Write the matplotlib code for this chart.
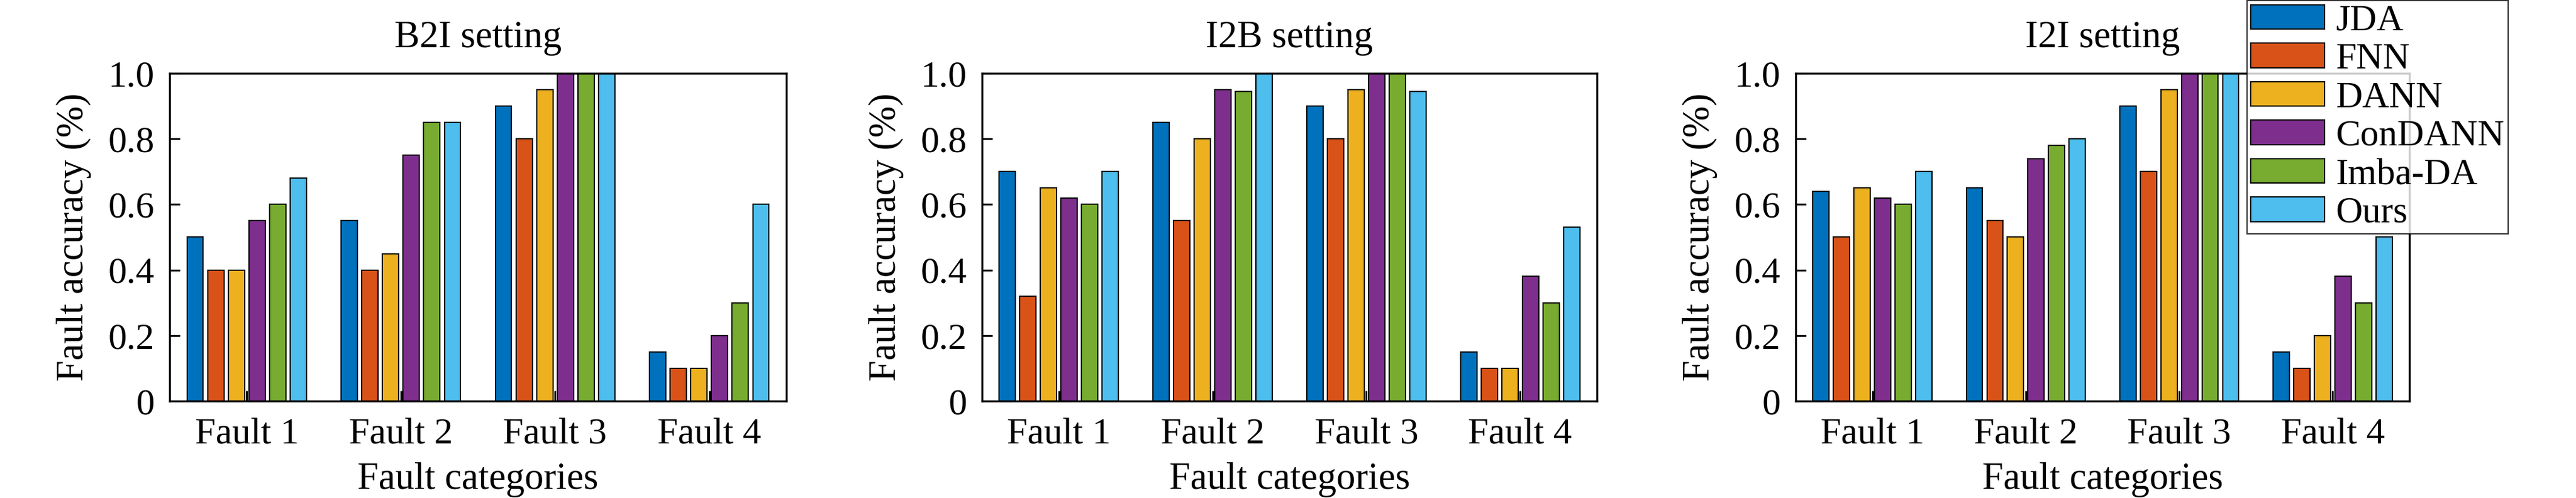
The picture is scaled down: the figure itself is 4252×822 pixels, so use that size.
import matplotlib
matplotlib.use("Agg")
import matplotlib.pyplot as plt
import numpy as np

plt.rcParams['font.family'] = ['Liberation Serif', 'DejaVu Serif']

categories = ["Fault 1", "Fault 2", "Fault 3", "Fault 4"]
methods = ["JDA", "FNN", "DANN", "ConDANN", "Imba-DA", "Ours"]
colors = ["#0072BD", "#D95319", "#EDB120", "#7E2F8E", "#77AC30", "#4DBEEE"]
titles = ["B2I setting", "I2B setting", "I2I setting"]
yticks = [0, 0.2, 0.4, 0.6, 0.8, 1.0]
ytick_labels = ["0", "0.2", "0.4", "0.6", "0.8", "1.0"]

# per method: values for Fault 1..4
b2i = {
    "JDA":     [0.50, 0.55, 0.90, 0.15],
    "FNN":     [0.40, 0.40, 0.80, 0.10],
    "DANN":    [0.40, 0.45, 0.95, 0.10],
    "ConDANN": [0.55, 0.75, 1.00, 0.20],
    "Imba-DA": [0.60, 0.85, 1.00, 0.30],
    "Ours":    [0.68, 0.85, 1.00, 0.60],
}
i2b = {
    "JDA":     [0.70, 0.85, 0.90, 0.15],
    "FNN":     [0.32, 0.55, 0.80, 0.10],
    "DANN":    [0.65, 0.80, 0.95, 0.10],
    "ConDANN": [0.62, 0.95, 1.00, 0.38],
    "Imba-DA": [0.60, 0.945, 1.00, 0.30],
    "Ours":    [0.70, 1.00, 0.945, 0.53],
}
i2i = {
    "JDA":     [0.64, 0.65, 0.90, 0.15],
    "FNN":     [0.50, 0.55, 0.70, 0.10],
    "DANN":    [0.65, 0.50, 0.95, 0.20],
    "ConDANN": [0.62, 0.74, 1.00, 0.38],
    "Imba-DA": [0.60, 0.78, 1.00, 0.30],
    "Ours":    [0.70, 0.80, 1.00, 0.50],
}
datasets = [b2i, i2b, i2i]

W, H = 4252, 822
fig = plt.figure(figsize=(W / 100, H / 100), dpi=100)

lefts = [280, 1621, 2964]
rights = [1298, 2636, 3977]
top_px, bot_px = 121, 662

x = np.arange(1, len(categories) + 1)
pitch = 0.134
bw = 0.106

handles = []
for k, (data, title) in enumerate(zip(datasets, titles)):
    ax = fig.add_axes([lefts[k] / W, 1 - bot_px / H, (rights[k] - lefts[k]) / W, (bot_px - top_px) / H])
    for j, m in enumerate(methods):
        off = (j - 2.5) * pitch
        b = ax.bar(x + off, data[m], width=bw, color=colors[j], edgecolor="black",
                   linewidth=1.5, label=m)
        if k == 0:
            handles.append(b)
    ax.set_xlim(0.5, 4.5)
    ax.set_ylim(0, 1.0)
    ax.set_xticks(x)
    ax.set_xticklabels(categories)
    ax.set_yticks(yticks)
    ax.set_yticklabels(ytick_labels)
    ax.tick_params(axis="both", direction="in", labelsize=44, length=12, width=2.2)
    ax.tick_params(axis="y", pad=18)
    ax.tick_params(axis="x", pad=20)
    for s in ["top", "right", "left", "bottom"]:
        ax.spines[s].set_linewidth(2.4)
    ax.set_title(title, fontsize=45, pad=31)
    ax.set_xlabel("Fault categories", fontsize=45, labelpad=13)
    ax.set_ylabel("Fault accuracy (%)", fontsize=45, labelpad=20)

leg = fig.legend(handles, methods, loc="upper left", bbox_to_anchor=(3709 / W, 1 - 1.0 / H),
                 fontsize=44, frameon=True, fancybox=False, edgecolor="black",
                 borderaxespad=0, handlelength=2.0, handleheight=0.64, handletextpad=0.3,
                 labelspacing=0.13, borderpad=0.1)
leg.get_frame().set_linewidth(1.5)

fig.savefig("out.png", dpi=100)
